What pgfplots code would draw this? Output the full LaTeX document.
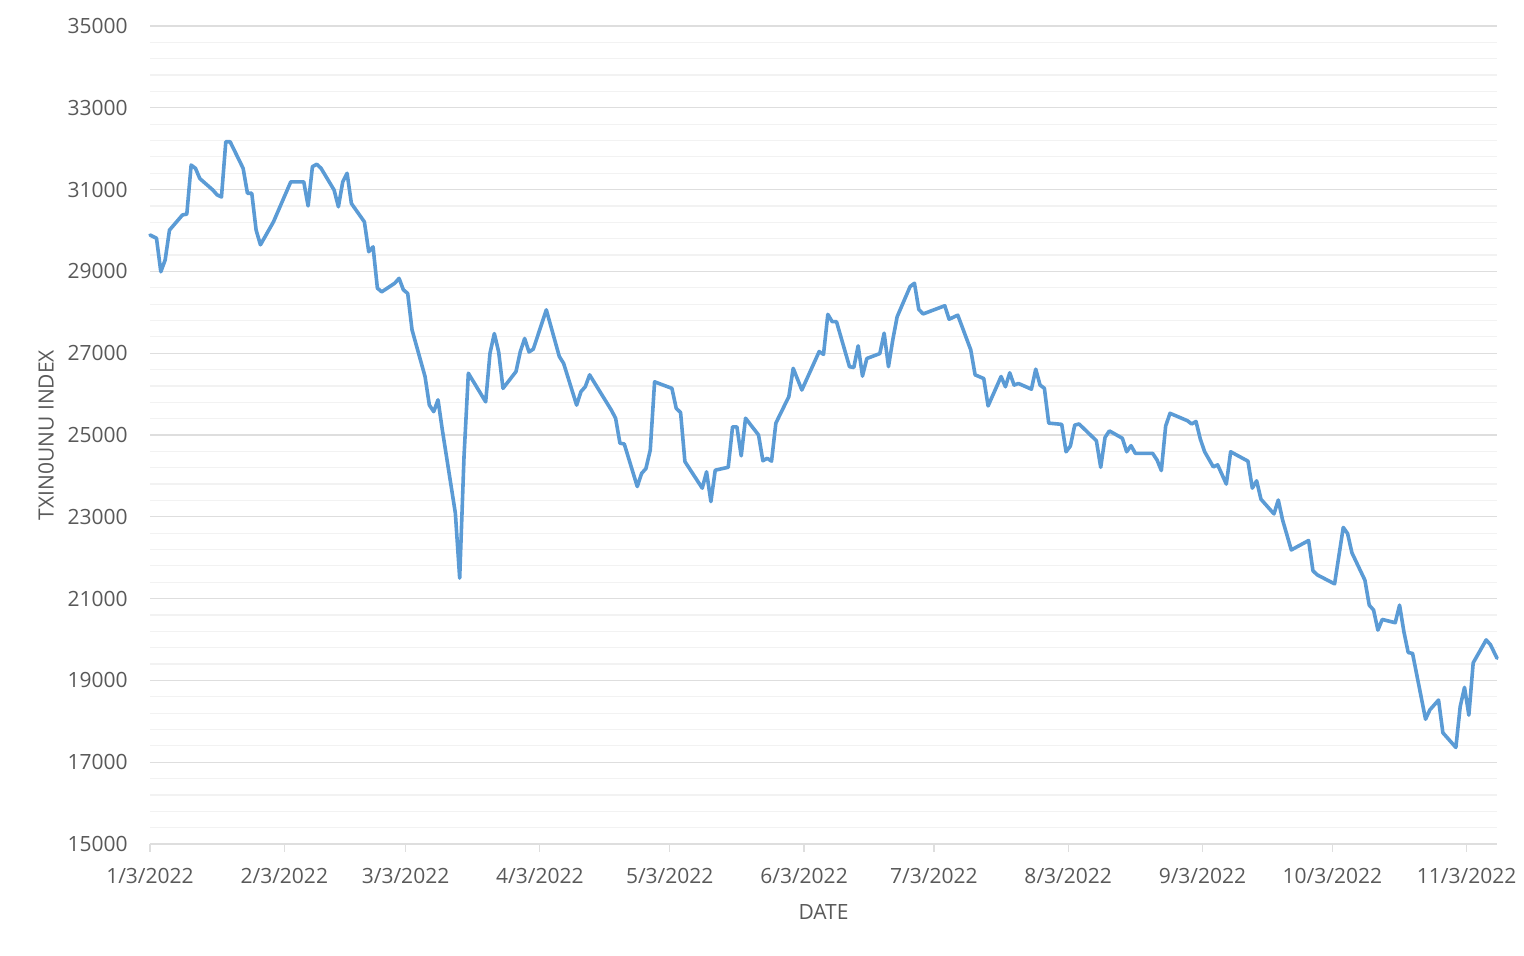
\documentclass[border=0pt]{standalone}
\usepackage{pgfplots}
\pgfplotsset{compat=1.18}
\usepackage{fontspec}
\setmainfont{Open Sans}
\definecolor{linec}{HTML}{5B9BD5}
\definecolor{lbl}{HTML}{595959}
\definecolor{majg}{HTML}{DEDEDE}
\definecolor{ming}{HTML}{F2F2F2}
\begin{document}
\begin{tikzpicture}
\path[use as bounding box] (0,0) rectangle (762pt,478pt);
\begin{axis}[
  at={(75pt,56pt)}, anchor=south west,
  scale only axis, width=673.5pt, height=409pt,
  xmin=0, xmax=311, ymin=15000, ymax=35000,
  axis line style={draw=none},
  xtick={0,31,59,90,120,151,181,212,243,273,304},
  xticklabels={1/3/2022,2/3/2022,3/3/2022,4/3/2022,5/3/2022,6/3/2022,7/3/2022,8/3/2022,9/3/2022,10/3/2022,11/3/2022},
  ytick={15000,17000,...,35000},
  minor y tick num=4,
  ymajorgrids, yminorgrids,
  major grid style={draw=majg, line width=0.6pt},
  minor grid style={draw=ming, line width=0.6pt},
  tick align=outside, xtick pos=bottom,
  major tick length=4pt, minor tick length=0pt,
  xtick style={draw=majg, line width=0.6pt},
  ytick style={draw=none},
  scaled y ticks=false,
  /pgf/number format/1000 sep={},
  /pgf/number format/assume math mode=true,
  every tick label/.append style={font=\fontsize{10.5pt}{12pt}\selectfont, text=lbl},
  xticklabel style={anchor=center, yshift=-12pt},
  yticklabel style={anchor=east, inner sep=0pt, xshift=-7pt},
  xlabel={DATE}, ylabel={TXIN0UNU INDEX},
  label style={font=\fontsize{10.5pt}{12pt}\selectfont, text=lbl},
  xlabel style={at={(axis description cs:0.5,0)}, anchor=center, yshift=-34pt},
  ylabel style={at={(axis description cs:0,0.5)}, anchor=center, yshift=52pt},
  clip=false,
]
\addplot[color=linec, line width=1.8pt, line join=round, line cap=round] table[x expr=\thisrow{x}+0.5] {
x y
-0.5 29890
1 29810
2 28990
3 29280
4 30010
7 30380
8 30400
9 31600
10 31520
11 31270
14 30990
15 30870
16 30820
17 32170
18 32170
21 31520
22 30910
23 30910
24 30010
25 29650
28 30210
32 31190
35 31190
36 30600
37 31560
38 31620
39 31520
42 30990
43 30580
44 31190
45 31400
46 30660
49 30210
50 29480
51 29600
52 28590
53 28500
56 28710
57 28830
58 28550
59 28460
60 27570
63 26430
64 25730
65 25570
66 25860
67 25120
70 23090
71 21500
72 24470
73 26510
77 25810
78 27000
79 27480
80 27030
81 26140
84 26550
85 27040
86 27360
87 27030
88 27100
91 28060
94 26920
95 26750
98 25730
99 26060
100 26180
101 26470
106 25610
107 25410
108 24800
109 24780
112 23740
113 24060
114 24180
115 24630
116 26300
120 26140
121 25650
122 25550
123 24350
127 23700
128 24100
129 23370
130 24140
133 24210
134 25200
135 25200
136 24490
137 25410
140 25000
141 24370
142 24430
143 24360
144 25290
147 25940
148 26630
150 26100
154 27040
155 26970
156 27950
157 27770
158 27770
161 26670
162 26650
163 27180
164 26440
165 26870
168 26990
169 27490
170 26670
171 27330
172 27890
175 28630
176 28710
177 28070
178 27960
183 28160
184 27830
186 27930
189 27080
190 26470
192 26380
193 25710
196 26430
197 26180
198 26520
199 26220
200 26260
203 26120
204 26610
205 26220
206 26140
207 25290
210 25260
211 24590
212 24730
213 25240
214 25270
218 24860
219 24210
220 24940
221 25100
224 24920
225 24590
226 24740
227 24550
231 24550
232 24390
233 24130
234 25220
235 25530
239 25350
240 25270
241 25330
242 24900
243 24590
245 24220
246 24270
248 23800
249 24590
253 24360
254 23700
255 23880
256 23430
259 23070
260 23410
261 22920
263 22190
267 22420
268 21680
269 21580
273 21360
275 22740
276 22590
277 22120
280 21450
281 20840
282 20720
283 20230
284 20490
287 20410
288 20840
289 20190
290 19680
291 19660
294 18050
295 18280
297 18520
298 17720
301 17360
302 18360
303 18830
304 18150
305 19430
308 19990
309 19870
310.5 19540
};
\end{axis}
\end{tikzpicture}
\end{document}
